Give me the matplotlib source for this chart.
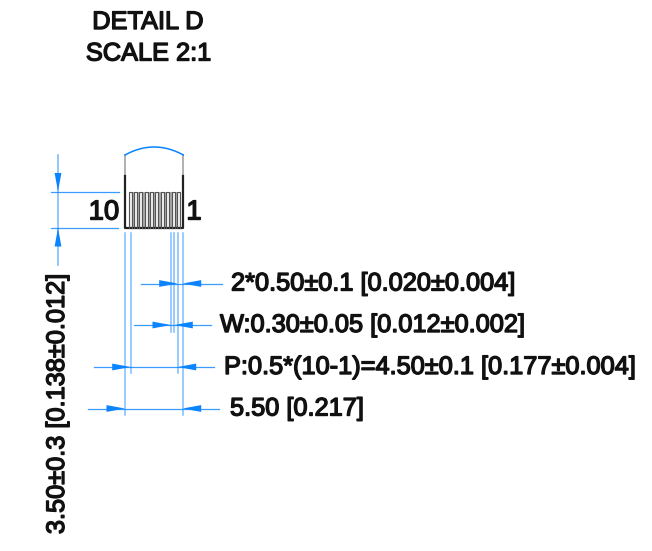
import numpy as np
import matplotlib
matplotlib.use("Agg")
import matplotlib.pyplot as plt
import matplotlib.patheffects as pe
from matplotlib.patches import Polygon

BLUE = "#0a84ff"
LIGHT = "#7dbdff"

title_lines = ["DETAIL D", "SCALE 2:1"]
pin_labels = ["10", "1"]
dim_labels = ["2*0.50±0.1 [0.020±0.004]", "W:0.30±0.05 [0.012±0.002]",
              "P:0.5*(10-1)=4.50±0.1 [0.177±0.004]", "5.50 [0.217]"]
height_label = "3.50±0.3 [0.138±0.012]"

# horizontal dimensions: y, line start, line end, left tip, right tip, text x
dim_y = [283.5, 325, 367, 408.5]
dim_x0 = [141, 134, 94, 88]
dim_x1 = [222, 211, 214, 219]
dim_tip_l = [177.7, 171, 130.7, 125]
dim_tip_r = [182.7, 174.3, 177.7, 182.7]
dim_text_x = [231, 220, 224, 230]

# extension lines
ext_x = [125, 130.7, 170.7, 174.3, 177.7, 182.7]
ext_y1 = [415, 373, 332, 332, 373, 415]

# package body
body_left, body_right, body_top, body_bottom = 125, 183.3, 155, 228
comb_left, comb_right, comb_top = 128.6, 180, 191.7
n_pins = 10
pin_w = 3.0

fig = plt.figure(figsize=(6.52, 5.51), dpi=100)
ax = fig.add_axes([0, 0, 1, 1])
ax.set_xlim(0, 652)
ax.set_ylim(551, 0)
ax.axis("off")


def arrow(tip_x, tip_y, dx, dy, length=18.5, half=3.4):
    if dx:
        pts = [(tip_x, tip_y), (tip_x + dx * length, tip_y - half), (tip_x + dx * length, tip_y + half)]
    else:
        pts = [(tip_x, tip_y), (tip_x - half, tip_y + dy * length), (tip_x + half, tip_y + dy * length)]
    ax.add_patch(Polygon(pts, closed=True, fc=BLUE, ec="none", zorder=4))


def label(x, y, s, size=18.25, ha="left", rotation=0):
    t = ax.text(x, y, s, fontsize=size, ha=ha, va="center", rotation=rotation,
                family="Liberation Sans", color="#111111", zorder=6)
    t.set_path_effects([pe.withStroke(linewidth=1.0, foreground="#111111")])


for x, y1 in zip(ext_x, ext_y1):
    ax.plot([x, x], [233, y1], color=LIGHT, lw=1.1, zorder=2)

for y, x0, x1, tl, tr, tx, s in zip(dim_y, dim_x0, dim_x1, dim_tip_l, dim_tip_r, dim_text_x, dim_labels):
    ax.plot([x0, x1], [y, y], color=BLUE, lw=0.9, alpha=0.8, zorder=3)
    arrow(tl, y, -1, 0)
    arrow(tr, y, 1, 0)
    label(tx, y, s)

# vertical height dimension
ax.plot([58, 58], [155, 265], color=LIGHT, lw=1.2, zorder=2)
ax.plot([51, 119], [191.5, 191.5], color=BLUE, lw=0.9, alpha=0.8, zorder=3)
ax.plot([51, 118], [228, 228], color=BLUE, lw=0.9, alpha=0.8, zorder=3)
arrow(58, 191.5, 0, -1)
arrow(58, 228, 0, 1)
label(57, 404, height_label, rotation=90, ha="center")

# body
ax.plot([body_left, body_left], [body_top, 176], color="#aaaaaa", lw=1.3, zorder=4)
ax.plot([body_right, body_right], [body_top, 176], color="#aaaaaa", lw=1.3, zorder=4)
ax.plot([body_left, body_left, body_right, body_right], [176, body_bottom, body_bottom, 176],
        color="#222222", lw=1.6, zorder=5)
xa = np.array([body_left, 154.2, body_right])
ya = np.array([body_top, 147, body_top])
coef = np.polyfit(xa, ya, 2)
xs = np.linspace(body_left, body_right, 60)
ax.plot(xs, np.polyval(coef, xs), color=BLUE, lw=1.1, zorder=4)
pitch = (comb_right - comb_left - pin_w) / (n_pins - 1)
ax.fill_between([comb_left, comb_right], comb_top, body_bottom, color="#a8a8a8", lw=0, zorder=4)
for i in range(n_pins):
    x = comb_left + i * pitch
    ax.fill_between([x, x + pin_w], comb_top, body_bottom, color="#f2f2f2", lw=0, zorder=4.5)
    ax.plot([x, x, x + pin_w, x + pin_w], [body_bottom, comb_top, comb_top, body_bottom],
            color="#555555", lw=0.8, zorder=5)

label(104, 212.5, pin_labels[0], size=19.8, ha="center")
label(194, 212.5, pin_labels[1], size=19.8, ha="center")

label(148, 22, title_lines[0], ha="center")
label(148.5, 53.5, title_lines[1], ha="center")

fig.savefig("out.png", dpi=100, facecolor="white")
